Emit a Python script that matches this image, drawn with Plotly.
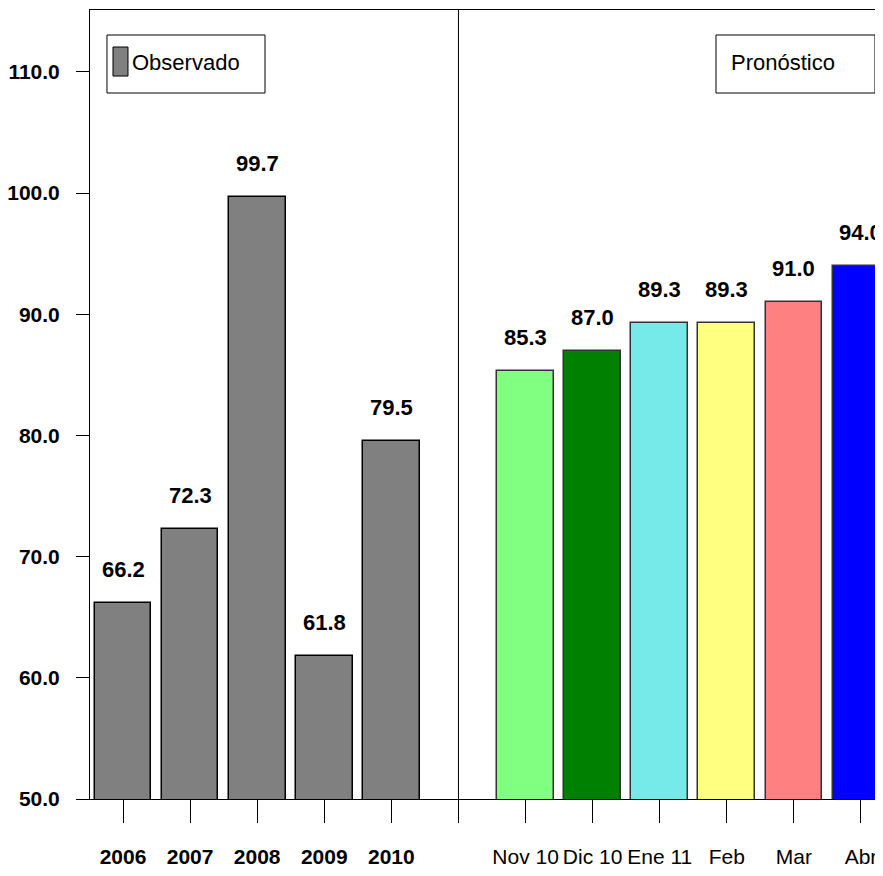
import plotly.graph_objects as go

# Observed annual values and monthly forecast
obs_labels = ["2006", "2007", "2008", "2009", "2010"]
obs_values = [66.2, 72.3, 99.7, 61.8, 79.5]

fc_labels = ["Nov 10", "Dic 10", "Ene 11", "Feb", "Mar", "Abr"]
fc_values = [85.3, 87.0, 89.3, 89.3, 91.0, 94.0]
fc_colors = ["#80FF80", "#008000", "#76EAE8", "#FFFF80", "#FF8080", "#0000FF"]

y_ticks = [50, 60, 70, 80, 90, 100, 110]

FONT = "Liberation Sans, Arial, sans-serif"

# positions: observed bars, one empty slot as separator, then forecast
obs_x = list(range(len(obs_labels)))
sep_x = len(obs_labels)
fc_x = [sep_x + 1 + i for i in range(len(fc_labels))]

fig = go.Figure()

fig.add_trace(go.Bar(
    x=obs_x, y=obs_values, width=0.845,
    marker=dict(color="#808080", line=dict(color="black", width=1.5)),
    name="Observado", showlegend=False,
))
fig.add_trace(go.Bar(
    x=fc_x, y=fc_values, width=0.845,
    marker=dict(color=fc_colors, line=dict(color="#333333", width=1.5)),
    name="Pronóstico", showlegend=False,
))

# value labels above the bars
for xs, vals in [(obs_x, obs_values), (fc_x, fc_values)]:
    for x, v in zip(xs, vals):
        fig.add_annotation(
            x=x, y=v, text=f"<b>{v:.1f}</b>", showarrow=False,
            yanchor="bottom", yshift=19,
            font=dict(family=FONT, size=22, color="black"),
        )

# separator between observed and forecast
fig.add_shape(type="line", xref="x", yref="paper", x0=sep_x, x1=sep_x, y0=0, y1=1,
              line=dict(color="black", width=1))

# legend-like boxes
fig.add_shape(type="rect", xref="paper", yref="paper", x0=0.0214, x1=0.2207, y0=0.8948, y1=0.9683,
              line=dict(color="black", width=1), fillcolor="white")
fig.add_shape(type="rect", xref="paper", yref="paper", x0=0.029, x1=0.0479, y0=0.9163, y1=0.9531,
              line=dict(color="black", width=1), fillcolor="#808080")
fig.add_annotation(xref="paper", yref="paper", x=0.051, y=0.934, text="Observado",
                   showarrow=False, xanchor="left", yanchor="middle",
                   font=dict(family=FONT, size=22, color="black"))
fig.add_shape(type="rect", xref="paper", yref="paper", x0=0.7894, x1=0.9899, y0=0.8948, y1=0.9683,
              line=dict(color="black", width=1), fillcolor="white")
fig.add_annotation(xref="paper", yref="paper", x=0.806, y=0.934, text="Pronóstico",
                   showarrow=False, xanchor="left", yanchor="middle",
                   font=dict(family=FONT, size=22, color="black"))

tick_vals = obs_x + [sep_x] + fc_x
tick_text = [f"<b>{t}</b>" for t in obs_labels] + [""] + fc_labels

# page body adds an 8px margin, so the figure is sized to fit inside the window
fig.update_layout(
    width=875, height=860,
    margin=dict(l=82, r=0, t=2, b=69),
    plot_bgcolor="white", paper_bgcolor="white",
    font=dict(family=FONT, color="black"),
    bargap=0,
    xaxis=dict(
        range=[-0.492, 11.328], tickmode="array", tickvals=tick_vals, ticktext=tick_text,
        showgrid=False, zeroline=False, showline=True, linecolor="black", linewidth=1,
        mirror=True, ticks="outside", ticklen=23, tickcolor="black", tickwidth=1,
        tickangle=0, automargin=False,
        ticklabelstandoff=16, tickfont=dict(family=FONT, size=21, color="black"),
    ),
    yaxis=dict(
        range=[50, 115.1], tickmode="array", tickvals=y_ticks,
        ticktext=[f"<b>{v:.1f}</b>" for v in y_ticks], automargin=False,
        showgrid=False, zeroline=False, showline=True, linecolor="black", linewidth=1,
        ticks="outside", ticklen=13, tickcolor="black", tickwidth=1,
        ticklabelstandoff=12, tickfont=dict(family=FONT, size=21, color="black"),
    ),
)

fig.write_html("out.html")
